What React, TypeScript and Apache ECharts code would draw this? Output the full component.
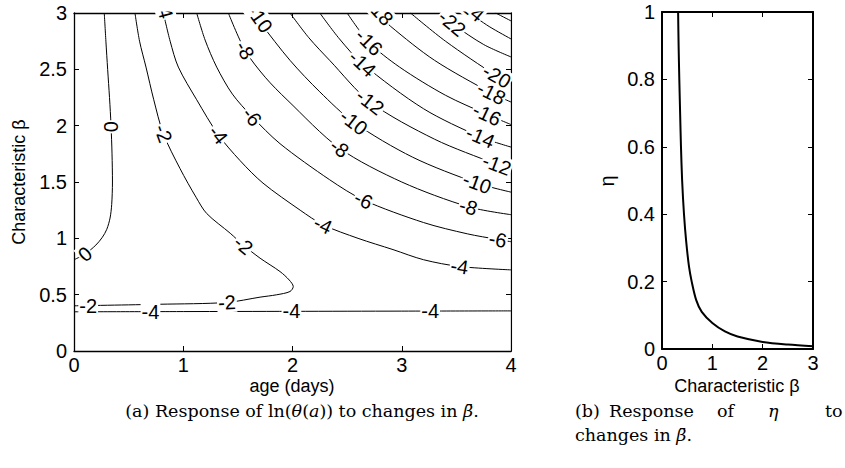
import React, { useEffect, useRef } from 'react';
import * as echarts from 'echarts';

// ---- Left panel: contour lines of ln(theta(a)), [age (days), beta] ----
const contour0 = [[0, 0.81], [0.1, 0.86], [0.2, 0.94], [0.26, 1.01], [0.3, 1.08], [0.33, 1.18], [0.345, 1.3], [0.352, 1.5], [0.348, 1.75], [0.339, 2.0], [0.325, 2.25], [0.308, 2.5], [0.292, 2.75], [0.277, 3.0]];
const contourM2 = [[0.558, 3.0], [0.6, 2.75], [0.659, 2.52], [0.73, 2.23], [0.817, 1.93], [0.97, 1.62], [1.12, 1.36], [1.215, 1.22], [1.43, 1.045], [1.55, 0.94], [1.703, 0.824], [1.886, 0.705], [1.97, 0.63], [2.007, 0.572], [1.977, 0.528], [1.855, 0.499], [1.703, 0.478], [1.4, 0.431], [0.787, 0.415], [0, 0.401]];
const contourM4Upper = [[0.818, 3.0], [0.88, 2.75], [0.955, 2.52], [1.123, 2.23], [1.32, 1.92], [1.52, 1.69], [1.73, 1.49], [2.07, 1.25], [2.28, 1.12], [2.6, 1.0], [2.92, 0.9], [3.2, 0.81], [3.53, 0.75], [4.0, 0.72]];
const contourM4Lower = [[0, 0.348], [1, 0.35], [2, 0.352], [3, 0.354], [4, 0.356]];
const contourM6 = [[1.123, 3.0], [1.2, 2.76], [1.306, 2.52], [1.45, 2.28], [1.63, 2.08], [1.886, 1.84], [2.34, 1.52], [2.65, 1.34], [3.2, 1.14], [3.6, 1.04], [3.88, 0.99], [4, 0.97]];
const contourM8 = [[1.413, 3.0], [1.565, 2.67], [1.75, 2.43], [1.95, 2.23], [2.43, 1.8], [3.0, 1.5], [3.61, 1.28], [4, 1.21]];
const contourM10 = [[1.64, 3.0], [1.7, 2.92], [1.977, 2.58], [2.25, 2.3], [2.56, 2.03], [3.1, 1.72], [3.69, 1.49], [4, 1.41]];
const contourM12 = [[1.977, 3.0], [2.15, 2.78], [2.34, 2.58], [2.71, 2.21], [3.3, 1.88], [3.87, 1.655], [4, 1.605]];
const contourM14 = [[2.25, 3.0], [2.43, 2.77], [2.64, 2.55], [3.2, 2.15], [3.72, 1.9], [4, 1.81]];
const contourM16 = [[2.5, 3.0], [2.7, 2.74], [2.98, 2.52], [3.4, 2.27], [3.78, 2.1], [4, 2.01]];
const contourM18 = [[2.78, 3.0], [2.9, 2.88], [3.3, 2.58], [3.82, 2.29], [4, 2.21]];
const contourM20 = [[3.08, 3.0], [3.4, 2.75], [3.87, 2.44], [4, 2.38]];
const contourM22 = [[3.35, 3.0], [3.47, 2.9], [3.75, 2.72], [4, 2.61]];
const contourM24 = [[3.62, 3.0], [3.8, 2.88], [4, 2.77]];
const contourM26 = [[3.86, 3.0], [4, 2.93]];

const contourLines = [contour0, contourM2, contourM4Upper, contourM4Lower, contourM6, contourM8, contourM10, contourM12, contourM14, contourM16, contourM18, contourM20, contourM22, contourM24, contourM26];

// contour labels: [text, age, beta, rotation in degrees]
const contourLabels: [string, number, number, number][] = [
  ['0', 0.34, 1.99, 90], ['0', 0.1, 0.86, 40],
  ['-2', 0.817, 1.93, -70], ['-2', 1.55, 0.94, -40], ['-2', 0.13, 0.397, 0], ['-2', 1.4, 0.432, 3],
  ['-4', 0.7, 0.35, 0], ['-4', 1.99, 0.352, 0], ['-4', 3.26, 0.354, 0],
  ['-4', 0.83, 3.03, -75], ['-4', 1.32, 1.92, -52], ['-4', 2.28, 1.12, -25], ['-4', 3.53, 0.75, -9],
  ['-6', 1.63, 2.08, -52], ['-6', 2.65, 1.34, -25], ['-6', 3.88, 0.99, -11],
  ['-8', 1.565, 2.67, -60], ['-8', 2.43, 1.8, -36], ['-8', 3.61, 1.28, -17],
  ['-10', 1.7, 2.95, -55], ['-10', 2.56, 2.03, -38], ['-10', 3.69, 1.49, -20],
  ['-12', 2.71, 2.21, -38], ['-12', 3.87, 1.655, -21],
  ['-14', 2.64, 2.55, -43], ['-14', 3.72, 1.9, -23],
  ['-16', 2.7, 2.74, -45], ['-16', 3.78, 2.1, -25],
  ['-18', 2.8, 3.01, -48], ['-18', 3.82, 2.29, -27],
  ['-20', 3.87, 2.44, -30],
  ['-22', 3.46, 2.91, -40],
  ['-24', 3.63, 3.04, -40],
];

// ---- Right panel: eta vs characteristic beta ----
const betaValues = [0.32, 0.33, 0.344, 0.36, 0.377, 0.4, 0.437, 0.48, 0.536, 0.59, 0.68, 0.79, 1.0, 1.25, 1.5, 2.0, 2.5, 3.0];
const etaValues = [1.0, 0.9, 0.8, 0.7, 0.6, 0.5, 0.4, 0.32, 0.245, 0.2, 0.145, 0.11, 0.077, 0.052, 0.037, 0.021, 0.013, 0.008];

const SANS = '"Liberation Sans", Arial, Helvetica, sans-serif';
const SERIF = '"DejaVu Serif", serif';

function axisPair(gridIndex: number, min: number, max: number, interval: number, lw: number, isX: boolean) {
  const main: any = {
    gridIndex, type: 'value', min, max, interval,
    position: isX ? 'bottom' : 'left',
    axisLine: { show: true, onZero: false, lineStyle: { color: '#000', width: lw } },
    axisTick: { show: true, inside: true, length: 5, lineStyle: { color: '#000', width: 1 } },
    axisLabel: { color: '#000', fontSize: 20, fontFamily: SANS, margin: isX ? 4 : 7, lineHeight: 20 },
    splitLine: { show: false },
  };
  const mirror: any = {
    gridIndex, type: 'value', min, max, interval,
    position: isX ? 'top' : 'right',
    axisLine: { show: true, onZero: false, lineStyle: { color: '#000', width: lw } },
    axisTick: { show: true, inside: true, length: 5, lineStyle: { color: '#000', width: 1 } },
    axisLabel: { show: false },
    splitLine: { show: false },
  };
  return [main, mirror];
}

export default function App() {
  const ref = useRef<HTMLDivElement>(null);
  useEffect(() => {
    document.body.style.margin = '0';
    if (!ref.current) return;
    const chart = echarts.init(ref.current, null, { renderer: 'svg' });

    const series: any[] = contourLines.map((pts) => ({
      type: 'line', xAxisIndex: 0, yAxisIndex: 0, data: pts, showSymbol: false, smooth: 0.3,
      lineStyle: { color: '#000', width: 1 }, silent: true, z: 2,
    }));
    series.push({
      type: 'scatter', xAxisIndex: 0, yAxisIndex: 0, symbolSize: 0, silent: true, z: 3, clip: false,
      itemStyle: { color: '#000' },
      data: contourLabels.map((l) => ({ name: l[0], value: [l[1], l[2]], label: { rotate: l[3] } })),
      label: {
        show: true, position: 'inside', formatter: '{b}', fontSize: 20, fontFamily: SANS,
        color: '#000', textBorderWidth: 0, backgroundColor: '#fff', padding: [0, 1], opacity: 1,
      },
    });
    series.push({
      type: 'line', xAxisIndex: 2, yAxisIndex: 2, showSymbol: false, smooth: 0.3, silent: true,
      data: betaValues.map((b, i) => [b, etaValues[i]]),
      lineStyle: { color: '#000', width: 2 },
    });

    const [x0, x1] = axisPair(0, 0, 4, 1, 1.3, true);
    const [y0, y1] = axisPair(0, 0, 3, 0.5, 1.3, false);
    const [x2, x3] = axisPair(1, 0, 3, 1, 2, true);
    const [y2, y3] = axisPair(1, 0, 1, 0.2, 2, false);

    const serifText = (x: number, y: number, text: string, align = 'left') => ({
      type: 'text', z: 101, x, y,
      style: {
        text, fontSize: 17.5, fontFamily: SERIF, fill: '#000', textAlign: align, textVerticalAlign: 'middle',
        rich: { i: { fontStyle: 'italic', fontSize: 17.5, fontFamily: SERIF, fill: '#000' } },
      },
    });

    chart.setOption({
      animation: false,
      backgroundColor: '#fff',
      grid: [
        { left: 74, top: 13, width: 437, height: 338 },
        { left: 662, top: 12, width: 151, height: 337 },
      ],
      xAxis: [x0, x1, x2, x3],
      yAxis: [y0, y1, y2, y3],
      series,
      graphic: [
        { type: 'rect', z: 100, shape: { x: 75, y: 0, width: 455, height: 11.6 }, style: { fill: '#fff' } },
        { type: 'rect', z: 100, shape: { x: 512.3, y: 0, width: 30, height: 352 }, style: { fill: '#fff' } },
        { type: 'text', z: 101, x: 292, y: 386, style: { text: 'age (days)', fontSize: 18, fontFamily: SANS, fill: '#000', textAlign: 'center', textVerticalAlign: 'middle' } },
        { type: 'text', z: 101, x: 19, y: 182, rotation: Math.PI / 2, style: { text: 'Characteristic β', fontSize: 18, fontFamily: SANS, fill: '#000', textAlign: 'center', textVerticalAlign: 'middle' } },
        { type: 'text', z: 101, x: 737, y: 386, style: { text: 'Characteristic β', fontSize: 18, fontFamily: SANS, fill: '#000', textAlign: 'center', textVerticalAlign: 'middle' } },
        { type: 'text', z: 101, x: 607, y: 181, rotation: Math.PI / 2, style: { text: 'η', fontSize: 20, fontFamily: SANS, fill: '#000', textAlign: 'center', textVerticalAlign: 'middle' } },
        serifText(302, 411, '(a) Response of ln({i|θ}({i|a})) to changes in {i|β̄}.', 'center'),
        serifText(575, 411, '(b)'),
        serifText(609, 411, 'Response'),
        serifText(717, 411, 'of'),
        serifText(768, 411, '{i|η}'),
        serifText(825, 411, 'to'),
        serifText(575, 435, 'changes in {i|β̄}.'),
      ],
    });
    return () => chart.dispose();
  }, []);
  return <div ref={ref} style={{ width: 845, height: 468 }} />;
}
